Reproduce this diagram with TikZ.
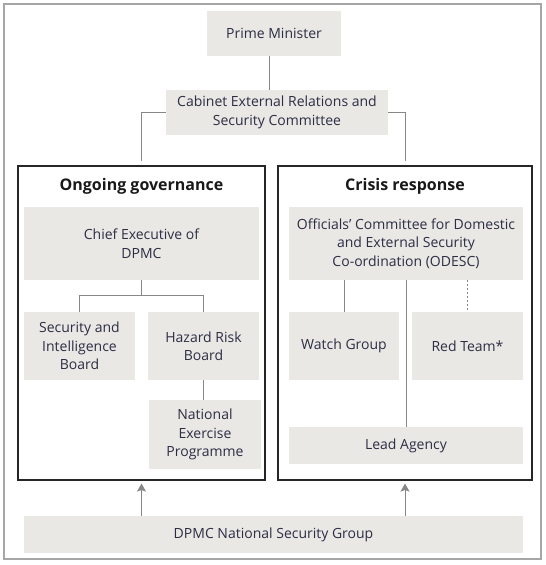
\documentclass[tikz,border=0pt]{standalone}
\usepackage{fontspec}
\setmainfont{Open Sans}
\usepackage{xcolor}
\usepackage{tikz}
\usetikzlibrary{calc,arrows.meta}

\definecolor{boxgray}{RGB}{233,232,229}
\definecolor{linkgray}{RGB}{135,135,135}
\definecolor{framegray}{RGB}{166,166,166}
\definecolor{txt}{RGB}{45,45,68}

\begin{document}
\begin{tikzpicture}[x=1pt,y=-1pt,
	box/.style={fill=boxgray,text=txt,align=center,inner sep=0pt,
		font=\fontsize{14}{18.5}\selectfont},
	link/.style={draw=linkgray,line width=.9pt},
	panel/.style={draw=black!85,line width=1.1pt,inner sep=0pt},
	title/.style={anchor=base,font=\fontsize{16}{19}\selectfont\bfseries,text=black!90}]
	\useasboundingbox (0,0) rectangle (546,565);
	\draw[framegray,line width=1.2pt] (4,4) rectangle (541,559);

	\node[box,minimum width=134pt,minimum height=45pt] (pm) at (274,33.5) {Prime Minister};
	\node[box,minimum width=222pt,minimum height=45pt] (cab) at (277,112.5)
		{Cabinet External Relations and\\Security Committee};

%	====================================================================
	\node[panel,minimum width=247pt,minimum height=314pt] (gov) at (141.5,323) {};
	\node[panel,minimum width=254pt,minimum height=314pt] (crisis) at (405,323) {};
	\node[title] (govtitle) at (141.5,190) {Ongoing governance};
	\node[title] (crisistitle) at (405,190) {Crisis response};
%	====================================================================

	\node[box,minimum width=235pt,minimum height=73pt] (chief) at (141.5,243.5)
		{Chief Executive of\\DPMC};
	\node[box,minimum width=111pt,minimum height=68pt] (sib) at (79.5,346)
		{Security and\\Intelligence\\Board};
	\node[box,minimum width=111pt,minimum height=68pt] (hrb) at (203.5,346)
		{Hazard Risk\\Board};
	\node[box,minimum width=112pt,minimum height=69pt] (nep) at (205,434.5)
		{National\\Exercise\\Programme};

	\node[box,minimum width=234pt,minimum height=73pt] (odesc) at (406,243.5)
		{Officials’ Committee for Domestic\\and External Security\\Co-ordination (ODESC)};
	\node[box,minimum width=110pt,minimum height=68pt] (watch) at (344,346) {Watch Group};
	\node[box,minimum width=111pt,minimum height=68pt] (red) at (467.5,346) {Red Team*};
	\node[box,minimum width=234pt,minimum height=37pt] (lead) at (406,445.5) {Lead Agency};

	\node[box,minimum width=499pt,minimum height=37pt] (dpmc) at (273.5,534.5)
		{DPMC National Security Group};

	% connectors
	\draw[link] ([xshift=-5pt]pm.south) -- ([xshift=-5pt]pm.south |- cab.north);
	\draw[link] (cab.west) -| ([yshift=4pt]gov.north);
	\draw[link] (cab.east) -| ([yshift=4pt]crisis.north);

	\draw[link] (chief.south) -- ++(0,15) coordinate (fork);
	\draw[link] (fork) -| (sib.north);
	\draw[link] (fork) -| (hrb.north);
	\draw[link] (hrb.south) -- (hrb.south |- nep.north);

	\draw[link] (watch.north |- odesc.south) -- (watch.north);
	\draw[link,line width=1.2pt,dash pattern=on 1.4pt off 2.6pt]
		(red.north |- odesc.south) -- (red.north);
	\draw[link] (odesc.south) -- (lead.north);

	\draw[link,-{Stealth[length=8pt,width=9pt,inset=1.5pt]}]
		(dpmc.north -| gov.south) -- ([yshift=-3pt]gov.south);
	\draw[link,-{Stealth[length=8pt,width=9pt,inset=1.5pt]}]
		(dpmc.north -| crisis.south) -- ([yshift=-3pt]crisis.south);
\end{tikzpicture}
\end{document}
